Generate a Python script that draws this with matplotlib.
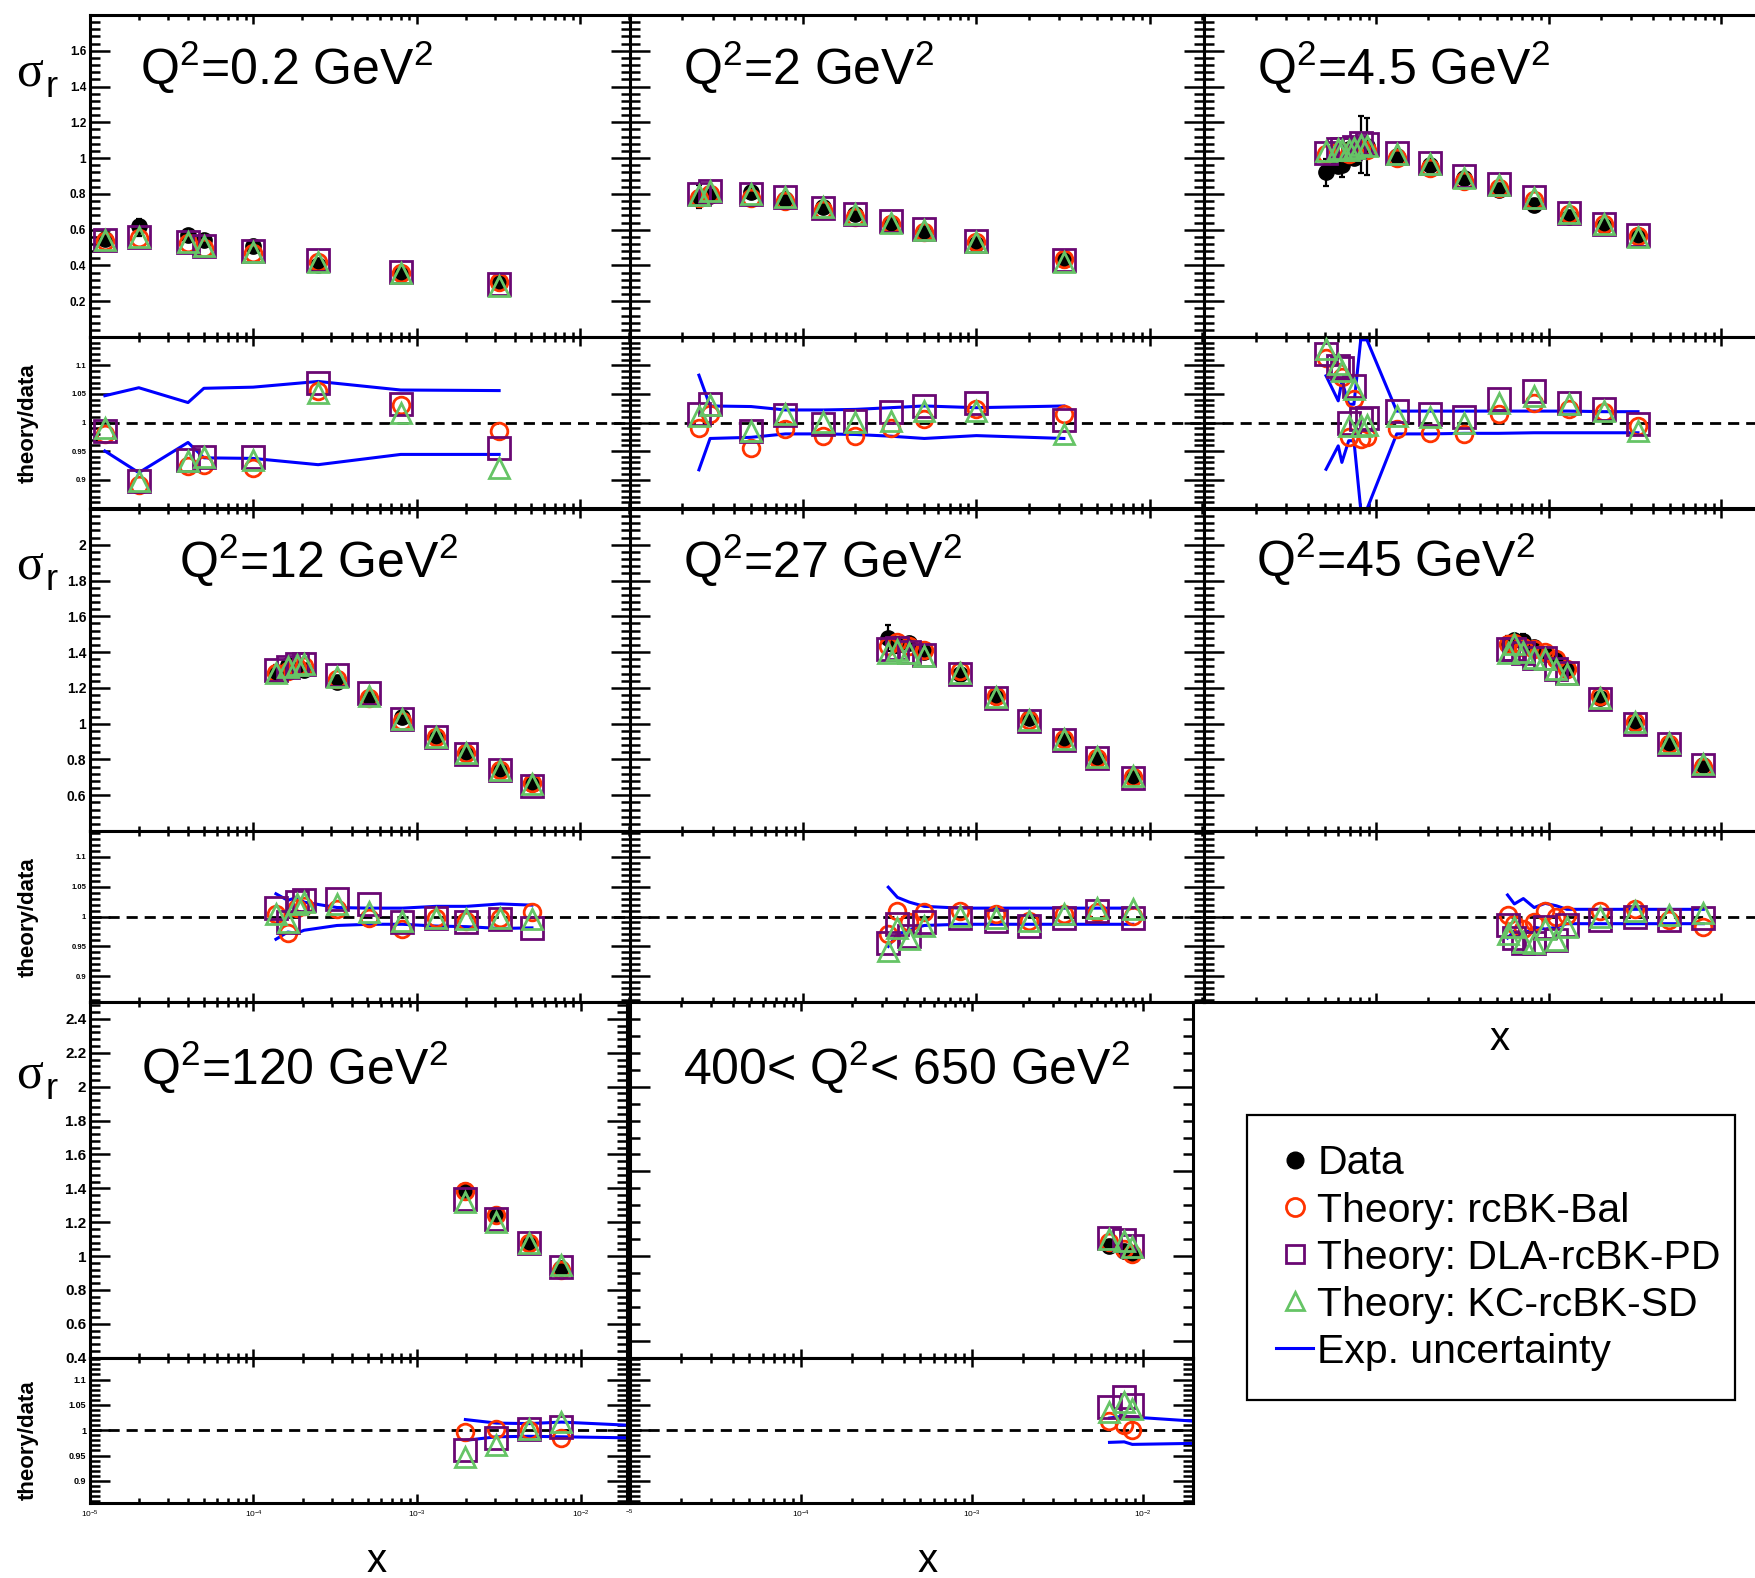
import numpy as np
import matplotlib
matplotlib.use('Agg')
import matplotlib.pyplot as plt
from matplotlib.ticker import MultipleLocator, NullFormatter
from matplotlib.lines import Line2D

plt.rcParams['font.family'] = ['Liberation Sans', 'DejaVu Sans']
plt.rcParams['mathtext.fontset'] = 'custom'
plt.rcParams['mathtext.rm'] = 'Liberation Sans'
plt.rcParams['mathtext.it'] = 'Liberation Sans:italic'
plt.rcParams['mathtext.bf'] = 'Liberation Sans:bold'

# ---------------- data ----------------
# Q2 = 0.2
q0p2_x = [1.24e-5, 2.0e-5, 4.0e-5, 5.0e-5, 1.0e-4, 2.5e-4, 8.0e-4, 3.2e-3]
q0p2_data = [0.55, 0.62, 0.57, 0.54, 0.51, 0.40, 0.35, 0.31]
q0p2_bal = [0.98, 0.89, 0.923, 0.925, 0.921, 1.055, 1.03, 0.985]
q0p2_pd = [0.985, 0.898, 0.935, 0.94, 0.94, 1.07, 1.033, 0.955]
q0p2_sd = [0.99, 0.898, 0.932, 0.94, 0.935, 1.052, 1.017, 0.92]
q0p2_up = [1.047, 1.061, 1.035, 1.06, 1.062, 1.072, 1.057, 1.056]
q0p2_lo = [0.950, 0.912, 0.965, 0.938, 0.937, 0.926, 0.944, 0.944]

# Q2 = 2
q2_x = [2.5e-5, 2.9e-5, 5.0e-5, 7.9e-5, 1.3e-4, 2.0e-4, 3.2e-4, 5.0e-4, 1.0e-3, 3.2e-3]
q2_data = [0.785, 0.79, 0.81, 0.77, 0.725, 0.685, 0.635, 0.585, 0.52, 0.43]
q2_bal = [0.991, 1.015, 0.956, 0.988, 0.977, 0.977, 0.991, 1.006, 1.023, 1.015]
q2_pd = [1.015, 1.032, 0.985, 1.013, 0.997, 1.003, 1.018, 1.029, 1.035, 1.005]
q2_sd = [1.012, 1.03, 0.985, 1.015, 1.001, 1.001, 1.003, 1.02, 1.02, 0.98]
q2_up = [1.083, 1.029, 1.028, 1.022, 1.022, 1.023, 1.026, 1.029, 1.026, 1.029]
q2_lo = [0.917, 0.972, 0.974, 0.98, 0.98, 0.979, 0.976, 0.972, 0.977, 0.972]

# Q2 = 4.5
q4p5_x = [5.1e-5, 6.0e-5, 6.3e-5, 6.9e-5, 7.4e-5, 8.1e-5, 8.8e-5, 1.31e-4,
          2.04e-4, 3.23e-4, 5.1e-4, 8.2e-4, 1.31e-3, 2.07e-3, 3.28e-3]
q4p5_data = [0.92, 0.955, 0.96, 1.05, 1.0, 1.08, 1.07, 1.01, 0.96, 0.89, 0.82,
             0.74, 0.67, 0.62, 0.57]
q4p5_bal = [1.114, 1.088, 1.08, 0.974, 1.041, 0.971, 0.975, 0.988, 0.982, 0.98,
            1.015, 1.035, 1.023, 1.018, 0.994]
q4p5_pd = [1.12, 1.099, 1.095, 1.0, 1.064, 1.006, 1.008, 1.02, 1.015, 1.009,
           1.041, 1.056, 1.035, 1.023, 0.997]
q4p5_sd = [1.129, 1.102, 1.09, 0.994, 1.058, 0.994, 0.996, 1.012, 1.009, 1.0,
           1.035, 1.047, 1.032, 1.02, 0.985]
q4p5_up = [1.082, 1.038, 1.073, 1.032, 1.032, 1.145, 1.145, 1.02, 1.02, 1.02,
           1.02, 1.02, 1.02, 1.019, 1.019]
q4p5_lo = [0.918, 0.959, 0.930, 0.968, 0.968, 0.848, 0.848, 0.98, 0.98, 0.981,
           0.981, 0.982, 0.982, 0.982, 0.982]

# Q2 = 12
q12_x = [1.38e-4, 1.63e-4, 1.85e-4, 2.05e-4, 3.26e-4, 5.1e-4, 8.2e-4, 1.32e-3,
         2.02e-3, 3.26e-3, 5.08e-3]
q12_data = [1.28, 1.33, 1.30, 1.30, 1.235, 1.145, 1.035, 0.93, 0.84, 0.745, 0.665]
q12_bal = [1.004, 0.973, 1.015, 1.018, 1.012, 0.998, 0.979, 0.998, 0.993, 0.998, 1.007]
q12_pd = [1.015, 0.99, 1.024, 1.027, 1.029, 1.021, 0.99, 0.998, 0.99, 0.995, 0.981]
q12_sd = [1.004, 0.99, 1.021, 1.024, 1.021, 1.007, 0.993, 0.998, 0.995, 0.998, 0.995]
q12_up = [1.038, 1.027, 1.032, 1.024, 1.015, 1.014, 1.014, 1.017, 1.017, 1.021, 1.019]
q12_lo = [0.962, 0.974, 0.972, 0.977, 0.985, 0.987, 0.987, 0.984, 0.983, 0.98, 0.981]

# Q2 = 27
q27_x = [3.1e-4, 3.5e-4, 4.1e-4, 5.0e-4, 8.0e-4, 1.3e-3, 2.0e-3, 3.2e-3, 5.0e-3, 8.0e-3]
q27_data = [1.48, 1.44, 1.45, 1.40, 1.28, 1.15, 1.03, 0.91, 0.80, 0.70]
q27_bal = [0.97, 1.01, 0.99, 1.007, 1.01, 1.004, 0.993, 1.004, 1.007, 1.001]
q27_pd = [0.956, 0.987, 0.967, 0.99, 0.998, 0.993, 0.984, 0.998, 1.01, 0.998]
q27_sd = [0.942, 0.981, 0.962, 0.984, 1.001, 0.998, 0.993, 1.004, 1.015, 1.012]
q27_up = [1.049, 1.032, 1.024, 1.017, 1.014, 1.014, 1.014, 1.014, 1.014, 1.014]
q27_lo = [0.95, 0.97, 0.978, 0.985, 0.987, 0.987, 0.987, 0.987, 0.987, 0.987]

# Q2 = 45
q45_x = [5.75e-4, 6.3e-4, 7.1e-4, 8.2e-4, 9.5e-4, 1.1e-3, 1.27e-3, 1.98e-3,
         3.16e-3, 4.93e-3, 7.85e-3]
q45_data = [1.44, 1.47, 1.46, 1.43, 1.39, 1.36, 1.30, 1.145, 1.0, 0.89, 0.77]
q45_bal = [1.003, 0.988, 0.979, 0.991, 1.009, 1.0, 1.003, 1.01, 1.012, 0.994, 0.982]
q45_pd = [0.985, 0.964, 0.955, 0.955, 0.982, 0.961, 0.985, 0.994, 1.0, 0.994, 0.997]
q45_sd = [0.97, 0.982, 0.958, 0.955, 0.979, 0.961, 0.982, 1.0, 1.009, 1.003, 1.006]
q45_up = [1.036, 1.021, 1.03, 1.015, 1.022, 1.018, 1.012, 1.012, 1.012, 1.012, 1.012]
q45_lo = [0.964, 0.976, 0.97, 0.982, 0.979, 0.982, 0.988, 0.988, 0.988, 0.988, 0.988]

# Q2 = 120
q120_x = [1.97e-3, 3.05e-3, 4.8e-3, 7.6e-3]
q120_data = [1.39, 1.24, 1.075, 0.93]
q120_bal = [0.997, 1.003, 1.0, 0.984]
q120_pd = [0.961, 0.984, 1.003, 1.007]
q120_sd = [0.948, 0.97, 1.003, 1.016]
q120_band_x = [1.97e-3, 3.05e-3, 4.8e-3, 7.6e-3, 1.9e-2]
q120_up = [1.021, 1.014, 1.013, 1.016, 1.01]
q120_lo = [0.98, 0.987, 0.988, 0.987, 0.985]

# 400 < Q2 < 650
q400_x = [6.4e-3, 7.8e-3, 8.7e-3]
q400_data = [1.06, 1.03, 1.01]
q400_bal = [1.019, 1.01, 1.0]
q400_pd = [1.045, 1.065, 1.049]
q400_sd = [1.036, 1.055, 1.042]
q400_band_x = [6.4e-3, 7.8e-3, 8.7e-3, 1.97e-2]
q400_up = [1.024, 1.028, 1.026, 1.018]
q400_lo = [0.976, 0.977, 0.972, 0.974]

panel_labels = ['Q$^{2}$=0.2 GeV$^{2}$', 'Q$^{2}$=2 GeV$^{2}$', 'Q$^{2}$=4.5 GeV$^{2}$',
                'Q$^{2}$=12 GeV$^{2}$', 'Q$^{2}$=27 GeV$^{2}$', 'Q$^{2}$=45 GeV$^{2}$',
                'Q$^{2}$=120 GeV$^{2}$', '400< Q$^{2}$< 650 GeV$^{2}$']
legend_labels = ['Data', 'Theory: rcBK-Bal', 'Theory: DLA-rcBK-PD',
                 'Theory: KC-rcBK-SD', 'Exp. uncertainty']
x_major = [1e-5, 1e-4, 1e-3, 1e-2]
x_tick_text = ['$10^{-5}$', '$10^{-4}$', '$10^{-3}$', '$10^{-2}$']

# ---------------- styling ----------------
C_BAL = '#ff3300'
C_PD = '#6a0873'
C_SD = '#66c466'
C_UNC = '#0000ff'

W, H = 1756, 1578
fig = plt.figure(figsize=(W / 100, H / 100), dpi=100)


def rect(x0, y0, x1, y1):
    return [x0 / W, 1 - y1 / H, (x1 - x0) / W, (y1 - y0) / H]


def ftext(x, y, s, **kw):
    return fig.text(x / W, 1 - y / H, s, **kw)


x_minor = [k * 10.0 ** e for e in range(-5, -1) for k in range(2, 10)]


def style_axes(ax, xmax, ylim, ymaj, ystep, ylabels=False, ylsize=8, xlabels=None):
    ax.set_xscale('log')
    if xlabels is not None:
        ax.set_xticks(x_major, labels=xlabels, fontsize=6)
    else:
        ax.set_xticks(x_major)
        ax.tick_params(axis='x', labelbottom=False)
    ax.set_xticks(x_minor, minor=True)
    ax.xaxis.set_minor_formatter(NullFormatter())
    if ylabels:
        ax.set_yticks(ymaj, labels=['%g' % v for v in ymaj], fontsize=ylsize,
                      fontweight='bold')
    else:
        ax.set_yticks(ymaj)
        ax.tick_params(axis='y', labelleft=False)
    ax.yaxis.set_minor_locator(MultipleLocator(ystep))
    ax.set_xlim(1e-5, xmax)
    ax.set_ylim(*ylim)
    ax.tick_params(axis='x', which='major', direction='in', length=6.5, width=1.8,
                   top=True, bottom=True, pad=4)
    ax.tick_params(axis='x', which='minor', direction='in', length=3.5, width=1.8,
                   top=True, bottom=True)
    ax.tick_params(axis='y', which='major', direction='in', length=14.4, width=1.8,
                   left=True, right=True, pad=2.5)
    ax.tick_params(axis='y', which='minor', direction='in', length=7.0, width=1.8,
                   left=True, right=True)
    for sp in ax.spines.values():
        sp.set_linewidth(2.2)


def draw_panel(row_y, col_x, xmax, top_ylim, top_maj, top_step, rat_ylim,
               x, data, bal, pd_, sd, band_x, up, lo, ylabels, top_ls, rat_ls,
               xlabels=None):
    y0, ymid, y1 = row_y
    x0, x1 = col_x
    x = np.array(x)
    data = np.array(data)
    bal = np.array(bal)
    pd_ = np.array(pd_)
    sd = np.array(sd)
    up = np.array(up)
    lo = np.array(lo)
    n = len(x)

    axt = fig.add_axes(rect(x0, y0, x1, ymid))
    eup = data * (up[:n] - 1)
    elo = data * (1 - lo[:n])
    axt.errorbar(x, data, yerr=[elo, eup], fmt='o', color='k', ms=11, elinewidth=1.6,
                 capsize=2.5, capthick=1.6, zorder=2)
    axt.plot(x, bal * data, 'o', mfc='none', mec=C_BAL, ms=12, mew=2.0, zorder=3)
    axt.plot(x, pd_ * data, 's', mfc='none', mec=C_PD, ms=16, mew=2.0, zorder=4)
    axt.plot(x, sd * data, '^', mfc='none', mec=C_SD, ms=15, mew=2.0, zorder=5)
    style_axes(axt, xmax, top_ylim, top_maj, top_step, ylabels, top_ls)

    axr = fig.add_axes(rect(x0, ymid, x1, y1))
    axr.axhline(1.0, color='k', lw=2.0, ls=(0, (4, 2.5)), zorder=1)
    axr.plot(band_x, up, color=C_UNC, lw=2.2, zorder=2, clip_on=False)
    axr.plot(band_x, lo, color=C_UNC, lw=2.2, zorder=2, clip_on=False)
    axr.plot(x, bal, 'o', mfc='none', mec=C_BAL, ms=12, mew=2.0, zorder=3, clip_on=False)
    axr.plot(x, pd_, 's', mfc='none', mec=C_PD, ms=16, mew=2.0, zorder=4, clip_on=False)
    axr.plot(x, sd, '^', mfc='none', mec=C_SD, ms=15, mew=2.0, zorder=5, clip_on=False)
    style_axes(axr, xmax, rat_ylim, [0.9, 0.95, 1.0, 1.05, 1.1], 0.01, ylabels, rat_ls,
               xlabels)
    return axt, axr


ROW1 = (15, 337, 508)
ROW2 = (509, 831, 1002)
ROW3 = (1002, 1357.7, 1502.7)
C1 = (89.6, 631)
C2 = (630, 1203.6)
C3 = (1204, 1776)
C1r3 = (89.8, 626.5)
C2r3 = (629.6, 1193)

r1_maj = [0.2, 0.4, 0.6, 0.8, 1.0, 1.2, 1.4, 1.6]
r2_maj = [0.6, 0.8, 1.0, 1.2, 1.4, 1.6, 1.8, 2.0]
r3_maj = [0.4, 0.6, 0.8, 1.0, 1.2, 1.4, 1.6, 1.8, 2.0, 2.2, 2.4]
r3b_maj = [0.5, 1.0, 1.5, 2.0]

# row 1
draw_panel(ROW1, C1, 0.0205, (0, 1.8), r1_maj, 0.04, (0.85, 1.15),
           q0p2_x, q0p2_data, q0p2_bal, q0p2_pd, q0p2_sd, q0p2_x, q0p2_up, q0p2_lo,
           True, 8.5, 5.5)
draw_panel(ROW1, C2, 0.0205, (0, 1.8), r1_maj, 0.04, (0.85, 1.15),
           q2_x, q2_data, q2_bal, q2_pd, q2_sd, q2_x, q2_up, q2_lo, False, 8.5, 5.5)
draw_panel(ROW1, C3, 0.0207, (0, 1.8), r1_maj, 0.04, (0.85, 1.15),
           q4p5_x, q4p5_data, q4p5_bal, q4p5_pd, q4p5_sd, q4p5_x, q4p5_up, q4p5_lo,
           False, 8.5, 5.5)
# row 2
draw_panel(ROW2, C1, 0.0205, (0.4, 2.2), r2_maj, 0.04, (0.857, 1.143),
           q12_x, q12_data, q12_bal, q12_pd, q12_sd, q12_x, q12_up, q12_lo,
           True, 10, 5.5)
draw_panel(ROW2, C2, 0.0205, (0.4, 2.2), r2_maj, 0.04, (0.857, 1.143),
           q27_x, q27_data, q27_bal, q27_pd, q27_sd, q27_x, q27_up, q27_lo,
           False, 10, 5.5)
draw_panel(ROW2, C3, 0.0207, (0.4, 2.2), r2_maj, 0.04, (0.857, 1.143),
           q45_x, q45_data, q45_bal, q45_pd, q45_sd, q45_x, q45_up, q45_lo,
           False, 10, 5.5)
# row 3
draw_panel(ROW3, C1r3, 0.019, (0.4, 2.5), r3_maj, 0.04, (0.857, 1.143),
           q120_x, q120_data, q120_bal, q120_pd, q120_sd, q120_band_x, q120_up, q120_lo,
           True, 11, 6.5, xlabels=x_tick_text)
draw_panel(ROW3, C2r3, 0.0197, (0.4, 2.5), r3b_maj, 0.1, (0.857, 1.143),
           q400_x, q400_data, q400_bal, q400_pd, q400_sd, q400_band_x, q400_up, q400_lo,
           False, 11, 6.5, xlabels=['$^{-5}$'] + x_tick_text[1:])

# ---------------- texts ----------------
label_pos = [(140, 85), (683, 85), (1257, 85), (179, 578), (683, 578), (1256, 577),
             (141, 1085), (683, 1085)]
for s, (px, py) in zip(panel_labels, label_pos):
    ftext(px, py, s, fontsize=36, ha='left', va='baseline')

for sb, rb in [(85, 97), (578, 590), (1087, 1099)]:
    ftext(16, sb, 'σ', fontsize=36, family='Liberation Serif', ha='left', va='baseline')
    ftext(46, rb, 'r', fontsize=26, ha='left', va='baseline')

for cy in [423, 917, 1440]:
    ftext(28, cy, 'theory/data', fontsize=16, fontweight='bold', rotation=90,
          ha='center', va='center')

for px, py in [(377, 1572), (928, 1572), (1500, 1050)]:
    ftext(px, py, 'x', fontsize=29, ha='center', va='baseline')

# ---------------- legend ----------------
handles = [
    Line2D([], [], ls='none', marker='o', color='k', ms=12),
    Line2D([], [], ls='none', marker='o', mfc='none', mec=C_BAL, ms=13, mew=2.0),
    Line2D([], [], ls='none', marker='s', mfc='none', mec=C_PD, ms=13, mew=2.0),
    Line2D([], [], ls='none', marker='^', mfc='none', mec=C_SD, ms=13, mew=2.0),
    Line2D([], [], color=C_UNC, lw=2.2),
]
leg = fig.legend(handles, legend_labels, loc='upper left',
                 bbox_to_anchor=(1247 / W, 1 - 1403 / H, 488 / W, 288 / H),
                 mode='expand', borderaxespad=0, fontsize=29.5, frameon=True,
                 fancybox=False, edgecolor='k', framealpha=1, handlelength=0.9,
                 handletextpad=0.1, borderpad=0.72, labelspacing=0.22)
leg.get_frame().set_linewidth(1.6)

fig.savefig('out.png', dpi=100)
